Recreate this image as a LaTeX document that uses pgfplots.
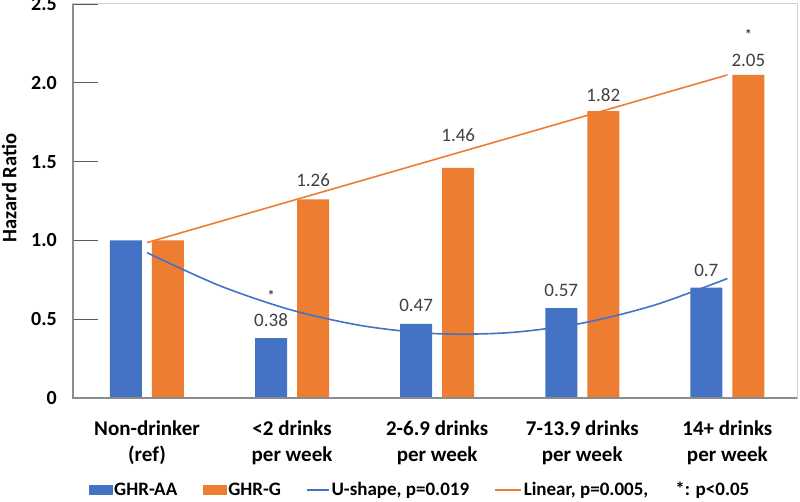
\documentclass[border=0pt]{standalone}
\usepackage{pgfplots}
\pgfplotsset{compat=1.18}
\usepackage{fontspec}
\setmainfont{Carlito}
\definecolor{cblue}{HTML}{4472C4}
\definecolor{corange}{HTML}{ED7D31}
\definecolor{lblgray}{HTML}{404040}
\definecolor{axdark}{HTML}{8C8C8C}
\definecolor{axlight}{HTML}{D0D0D0}
\definecolor{tickc}{HTML}{595959}
\begin{document}
\begin{tikzpicture}[x=1pt,y=1pt]
\path[use as bounding box] (0,0) rectangle (800,501);
\begin{axis}[
  at={(73pt,103pt)}, anchor=south west,
  scale only axis, width=724pt, height=394pt,
  xmin=-0.51, xmax=4.48, ymin=0, ymax=2.5,
  axis line style={axlight, line width=1pt},
  xtick={0,1,2,3,4},
  xticklabels={{Non-drinker\\(ref)},{<2 drinks\\per week},{2-6.9 drinks\\per week},{7-13.9 drinks\\per week},{14+ drinks\\per week}},
  xtick style={draw=none},
  xticklabel style={align=center, font=\fontsize{21}{25.5}\selectfont\bfseries, inner sep=0pt, yshift=-23pt, text=black},
  ytick={0,0.5,1,1.5,2,2.5},
  yticklabels={0,0.5,1.0,1.5,2.0,2.5},
  ytick pos=left,
  tick align=inside,
  major tick length=25pt,
  ytick style={tickc, line width=1.2pt},
  yticklabel style={font=\fontsize{20}{24}\selectfont\bfseries, inner sep=0pt, xshift=-16pt, text=black},
  /pgf/number format/assume math mode=true,
  ylabel={Hazard Ratio},
  ylabel style={at={(axis description cs:-0.088,0.533)}, anchor=center, font=\fontsize{20.5}{24}\selectfont\bfseries},
  legend columns=5,
  legend style={at={(0.479,-0.233)}, anchor=center, draw=none, fill=none,
    font=\fontsize{19}{22}\selectfont\bfseries,
    nodes={inner sep=1.5pt},
    /tikz/every even column/.append style={column sep=24pt}},
  legend cell align=left,
  clip=false,
]
\addplot[ybar, bar width=32pt, bar shift=-21pt, fill=cblue, draw=none,
  legend image code/.code={\fill[cblue] (0pt,-5pt) rectangle (24pt,5pt);}]
  coordinates {(0,1.00) (1,0.38) (2,0.47) (3,0.57) (4,0.70)};
\addlegendentry{GHR-AA}
\addplot[ybar, bar width=32pt, bar shift=21pt, fill=corange, draw=none,
  legend image code/.code={\fill[corange] (0pt,-5pt) rectangle (24pt,5pt);}]
  coordinates {(0,1.00) (1,1.26) (2,1.46) (3,1.82) (4,2.05)};
\addlegendentry{GHR-G}
\addplot[cblue, line width=1.6pt, smooth, mark=none,
  legend image code/.code={\draw[cblue, line width=1.6pt] (0pt,0pt) -- (22pt,0pt);}]
  coordinates {(0,0.922) (0.5,0.713) (1,0.557) (1.5,0.456) (2,0.408) (2.5,0.415) (3,0.475) (3.5,0.590) (4,0.758)};
\addlegendentry{U-shape, p=0.019}
\addplot[corange, line width=1.6pt, mark=none,
  legend image code/.code={\draw[corange, line width=1.6pt] (0pt,0pt) -- (26pt,0pt);}]
  coordinates {(0,0.986) (4,2.05)};
\addlegendentry{Linear, p=0.005,}
\addlegendimage{empty legend}
\addlegendentry{*: p<0.05}
% left and bottom axis lines darker
\draw[axdark, line width=1.3pt] (rel axis cs:0,1) -- (rel axis cs:0,0) -- (rel axis cs:1,0);
% data labels
\tikzset{lbl/.style={font=\fontsize{19}{22}\selectfont, text=lblgray, inner sep=0pt, anchor=center}}
\node[lbl, yshift=18pt] at (axis cs:0.855,0.38) {0.38};
\node[lbl, yshift=19pt] at (axis cs:1.855,0.47) {0.47};
\node[lbl, yshift=18pt] at (axis cs:2.855,0.57) {0.57};
\node[lbl, yshift=17pt] at (axis cs:3.855,0.70) {0.7};
\node[lbl, yshift=19pt] at (axis cs:1.145,1.26) {1.26};
\node[lbl, yshift=33pt] at (axis cs:2.145,1.46) {1.46};
\node[lbl, yshift=16pt] at (axis cs:3.145,1.82) {1.82};
\node[lbl, yshift=15pt] at (axis cs:4.145,2.05) {2.05};
\node[font=\fontsize{14}{16}\selectfont\bfseries, text=lblgray, inner sep=0pt, yshift=-2.5pt] at (axis cs:0.855,0.667) {*};
\node[font=\fontsize{14}{16}\selectfont\bfseries, text=lblgray, inner sep=0pt, yshift=-2.5pt] at (axis cs:4.145,2.324) {*};
\end{axis}
\end{tikzpicture}
\end{document}
